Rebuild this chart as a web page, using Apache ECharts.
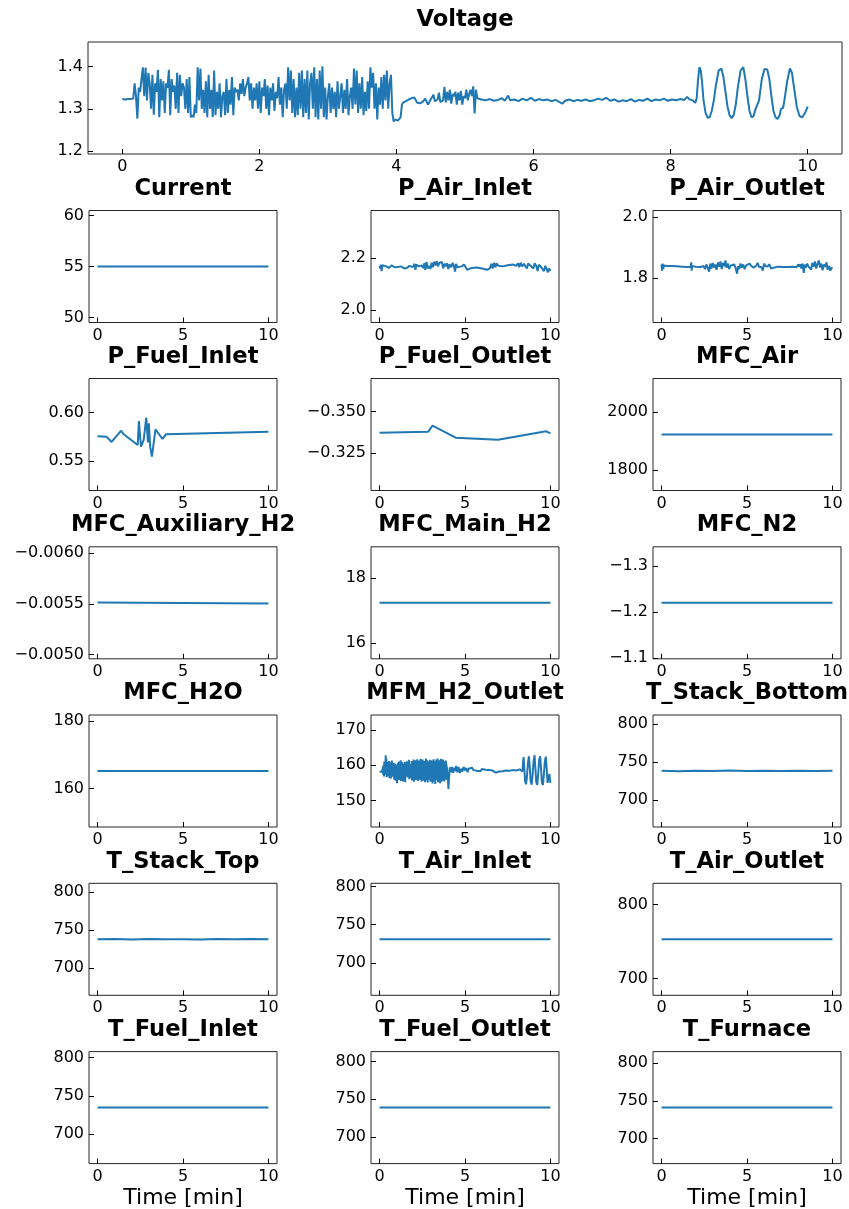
<!DOCTYPE html>
<html>
<head>
<meta charset="utf-8">
<script src="https://cdn.jsdelivr.net/npm/echarts@6/dist/echarts.min.js"></script>
<style>
  html, body { margin: 0; padding: 0; background: #ffffff; }
  #chart { width: 849px; height: 1209px; }
</style>
</head>
<body>
<div id="chart"></div>
<script>
// ---------- data ----------
const voltageTicksX = [0, 2, 4, 6, 8, 10];
const voltageTicksY = [1.2, 1.3, 1.4];
const voltageRange = [1.1935, 1.4575];

const voltage = [
  [0.00,1.323],[0.04,1.322],[0.08,1.323],[0.12,1.323],[0.16,1.324],[0.18,1.360],[0.20,1.330],[0.22,1.277],
  [0.24,1.350],[0.26,1.340],[0.28,1.370],[0.30,1.398],[0.32,1.330],[0.34,1.397],[0.36,1.320],[0.38,1.385],
  [0.40,1.360],[0.42,1.300],[0.44,1.380],[0.46,1.286],[0.48,1.360],[0.50,1.340],[0.52,1.392],[0.54,1.280],
  [0.56,1.370],[0.58,1.320],[0.60,1.365],[0.62,1.290],[0.64,1.360],[0.66,1.350],[0.68,1.392],[0.70,1.285],
  [0.72,1.370],[0.74,1.340],[0.76,1.355],[0.78,1.300],[0.80,1.385],[0.82,1.290],[0.84,1.380],[0.86,1.330],
  [0.88,1.360],[0.90,1.350],[0.92,1.300],[0.94,1.370],[0.96,1.290],[0.98,1.375],[1.00,1.280],[1.02,1.285],
  [1.04,1.280],[1.06,1.310],[1.08,1.290],[1.10,1.398],[1.12,1.320],[1.14,1.395],[1.16,1.300],[1.18,1.345],
  [1.20,1.290],[1.22,1.365],[1.24,1.280],[1.26,1.380],[1.28,1.300],[1.30,1.345],[1.32,1.280],[1.34,1.390],
  [1.36,1.285],[1.38,1.340],[1.40,1.300],[1.42,1.360],[1.44,1.280],[1.46,1.330],[1.48,1.340],[1.50,1.285],
  [1.52,1.370],[1.54,1.290],[1.56,1.345],[1.58,1.310],[1.60,1.375],[1.62,1.285],[1.64,1.350],[1.66,1.340],
  [1.68,1.345],[1.70,1.320],[1.72,1.360],[1.74,1.335],[1.76,1.370],[1.78,1.330],[1.80,1.350],[1.82,1.360],
  [1.84,1.375],[1.86,1.320],[1.88,1.360],[1.90,1.300],[1.92,1.350],[1.94,1.320],[1.96,1.360],[1.98,1.300],
  [2.00,1.365],[2.02,1.290],[2.04,1.350],[2.06,1.330],[2.08,1.370],[2.10,1.300],[2.12,1.355],[2.14,1.285],
  [2.16,1.350],[2.18,1.320],[2.20,1.360],[2.22,1.295],[2.24,1.340],[2.26,1.325],[2.28,1.375],[2.30,1.310],
  [2.32,1.350],[2.34,1.280],[2.36,1.345],[2.38,1.360],[2.40,1.300],[2.42,1.398],[2.44,1.320],[2.46,1.390],
  [2.48,1.290],[2.50,1.370],[2.52,1.280],[2.54,1.350],[2.56,1.285],[2.58,1.385],[2.60,1.300],[2.62,1.390],
  [2.64,1.280],[2.66,1.370],[2.68,1.290],[2.70,1.390],[2.72,1.275],[2.74,1.360],[2.76,1.385],[2.78,1.300],
  [2.80,1.398],[2.82,1.280],[2.84,1.370],[2.86,1.275],[2.88,1.390],[2.90,1.300],[2.92,1.400],[2.94,1.280],
  [2.96,1.350],[2.98,1.275],[3.00,1.330],[3.02,1.360],[3.04,1.290],[3.06,1.350],[3.08,1.300],[3.10,1.340],
  [3.12,1.280],[3.14,1.365],[3.16,1.300],[3.18,1.330],[3.20,1.360],[3.22,1.290],[3.24,1.345],[3.26,1.300],
  [3.28,1.370],[3.30,1.285],[3.32,1.330],[3.34,1.350],[3.36,1.300],[3.38,1.395],[3.40,1.310],[3.42,1.390],
  [3.44,1.290],[3.46,1.360],[3.48,1.300],[3.50,1.375],[3.52,1.285],[3.54,1.340],[3.56,1.295],[3.58,1.365],
  [3.60,1.300],[3.62,1.398],[3.64,1.350],[3.66,1.385],[3.68,1.300],[3.70,1.360],[3.72,1.275],[3.74,1.350],
  [3.76,1.310],[3.78,1.375],[3.80,1.300],[3.82,1.380],[3.84,1.320],[3.86,1.390],[3.88,1.300],[3.90,1.360],
  [3.92,1.380],[3.94,1.290],[3.96,1.270],[3.98,1.275],[4.00,1.278],[4.02,1.272],[4.04,1.276],[4.06,1.280],
  [4.08,1.310],[4.10,1.315],[4.14,1.318],[4.18,1.322],[4.22,1.325],[4.26,1.327],[4.30,1.315],[4.34,1.313],
  [4.38,1.316],[4.42,1.324],[4.46,1.310],[4.50,1.322],[4.54,1.333],[4.56,1.318],[4.60,1.322],[4.62,1.338],
  [4.64,1.316],[4.68,1.320],[4.70,1.352],[4.72,1.315],[4.74,1.340],[4.76,1.320],[4.78,1.345],[4.80,1.312],
  [4.82,1.335],[4.84,1.330],[4.86,1.340],[4.88,1.310],[4.90,1.338],[4.92,1.320],[4.94,1.342],[4.96,1.310],
  [4.98,1.330],[5.00,1.325],[5.02,1.345],[5.04,1.320],[5.06,1.335],[5.08,1.345],[5.10,1.330],[5.12,1.353],
  [5.14,1.289],[5.16,1.345],[5.18,1.325],[5.20,1.328],[5.24,1.322],[5.30,1.320],[5.36,1.323],[5.42,1.319],
  [5.48,1.321],[5.54,1.325],[5.58,1.319],[5.63,1.331],[5.66,1.320],[5.72,1.322],[5.78,1.318],[5.84,1.324],
  [5.90,1.320],[5.96,1.326],[6.02,1.319],[6.08,1.323],[6.14,1.320],[6.20,1.322],[6.26,1.318],[6.32,1.321],
  [6.38,1.316],[6.42,1.312],[6.46,1.319],[6.52,1.322],[6.58,1.318],[6.64,1.321],[6.70,1.319],[6.76,1.322],
  [6.82,1.318],[6.88,1.320],[6.94,1.324],[7.00,1.321],[7.06,1.326],[7.12,1.319],[7.18,1.322],[7.24,1.317],
  [7.30,1.320],[7.36,1.318],[7.42,1.323],[7.48,1.317],[7.54,1.321],[7.60,1.319],[7.66,1.324],[7.72,1.318],
  [7.78,1.322],[7.84,1.320],[7.90,1.324],[7.96,1.319],[8.02,1.322],[8.08,1.320],[8.14,1.323],[8.20,1.321],
  [8.24,1.328],[8.28,1.322],[8.32,1.320],[8.36,1.314],[8.38,1.325],[8.40,1.370],[8.42,1.398],[8.44,1.390],
  [8.46,1.360],[8.48,1.320],[8.51,1.290],[8.54,1.279],[8.57,1.280],[8.60,1.295],[8.63,1.320],[8.66,1.355],
  [8.70,1.390],[8.74,1.395],[8.77,1.375],[8.80,1.340],[8.83,1.305],[8.86,1.285],[8.89,1.278],[8.92,1.285],
  [8.95,1.310],[8.98,1.350],[9.02,1.390],[9.06,1.398],[9.09,1.370],[9.12,1.330],[9.15,1.295],[9.18,1.280],
  [9.21,1.283],[9.24,1.300],[9.26,1.302],[9.29,1.320],[9.33,1.370],[9.37,1.394],[9.41,1.393],[9.44,1.370],
  [9.47,1.330],[9.50,1.295],[9.53,1.280],[9.56,1.276],[9.59,1.285],[9.61,1.300],[9.64,1.302],[9.66,1.320],
  [9.70,1.365],[9.74,1.395],[9.77,1.385],[9.80,1.350],[9.84,1.305],[9.88,1.283],[9.92,1.280],[9.96,1.290],
  [10.00,1.305]
];

const current = [[0, 55.0], [10, 55.0]];

const pAirInlet = [
  [0.00,2.170],[0.05,2.160],[0.08,2.175],[0.12,2.150],[0.16,2.172],[0.25,2.170],[0.40,2.168],[0.55,2.162],
  [0.70,2.172],[0.85,2.166],[1.00,2.165],[1.10,2.172],[1.25,2.168],[1.45,2.160],[1.60,2.162],[1.75,2.170],
  [1.85,2.175],[1.95,2.165],[2.05,2.178],[2.10,2.155],[2.15,2.175],[2.30,2.168],[2.45,2.172],[2.55,2.162],
  [2.62,2.180],[2.68,2.155],[2.75,2.185],[2.82,2.160],[2.90,2.170],[2.98,2.158],[3.05,2.182],[3.12,2.165],
  [3.20,2.186],[3.28,2.172],[3.35,2.188],[3.42,2.168],[3.50,2.182],[3.58,2.175],[3.65,2.185],[3.72,2.160],
  [3.80,2.178],[3.88,2.168],[3.95,2.180],[4.02,2.158],[4.10,2.176],[4.20,2.165],[4.28,2.182],[4.35,2.170],
  [4.42,2.148],[4.48,2.178],[4.55,2.165],[4.65,2.172],[4.80,2.168],[4.95,2.175],[5.05,2.170],[5.12,2.155],
  [5.18,2.160],[5.40,2.162],[5.70,2.164],[6.00,2.160],[6.30,2.155],[6.45,2.160],[6.55,2.178],[6.62,2.160],
  [6.70,2.182],[6.78,2.165],[6.85,2.180],[6.95,2.170],[7.20,2.168],[7.50,2.172],[7.80,2.175],[8.00,2.170],
  [8.10,2.180],[8.18,2.165],[8.25,2.182],[8.35,2.168],[8.45,2.178],[8.55,2.175],[8.62,2.160],[8.70,2.180],
  [8.80,2.172],[8.90,2.176],[9.00,2.160],[9.08,2.180],[9.18,2.168],[9.25,2.150],[9.32,2.175],[9.45,2.165],
  [9.55,2.172],[9.62,2.150],[9.70,2.170],[9.78,2.158],[9.85,2.145],[9.92,2.160],[10.00,2.150]
];

const pAirOutlet = [
  [0.00,1.845],[0.03,1.825],[0.06,1.848],[0.10,1.830],[0.14,1.842],[0.30,1.840],[0.60,1.840],[0.90,1.839],
  [1.20,1.838],[1.50,1.837],[1.70,1.838],[1.74,1.852],[1.76,1.825],[1.78,1.840],[2.00,1.838],[2.30,1.837],
  [2.45,1.840],[2.55,1.830],[2.62,1.845],[2.70,1.835],[2.78,1.822],[2.85,1.848],[2.92,1.832],[3.00,1.850],
  [3.08,1.835],[3.15,1.845],[3.22,1.828],[3.30,1.852],[3.38,1.838],[3.45,1.855],[3.52,1.830],[3.60,1.850],
  [3.68,1.840],[3.74,1.858],[3.80,1.835],[3.88,1.848],[3.95,1.830],[4.05,1.842],[4.15,1.838],[4.25,1.845],
  [4.32,1.836],[4.42,1.815],[4.48,1.840],[4.55,1.830],[4.62,1.848],[4.70,1.835],[4.78,1.845],[4.86,1.830],
  [4.95,1.842],[5.05,1.838],[5.15,1.848],[5.25,1.840],[5.40,1.835],[5.55,1.842],[5.62,1.850],[5.70,1.838],
  [5.85,1.836],[5.92,1.825],[6.00,1.848],[6.08,1.840],[6.20,1.838],[6.30,1.846],[6.40,1.832],[6.50,1.838],
  [6.80,1.838],[7.10,1.837],[7.40,1.837],[7.70,1.838],[7.90,1.836],[8.00,1.845],[8.06,1.838],[8.12,1.846],
  [8.18,1.832],[8.25,1.848],[8.32,1.818],[8.38,1.845],[8.45,1.835],[8.52,1.848],[8.60,1.838],[8.68,1.842],
  [8.75,1.828],[8.82,1.850],[8.90,1.838],[8.98,1.855],[9.05,1.832],[9.12,1.845],[9.20,1.858],[9.28,1.835],
  [9.35,1.848],[9.42,1.826],[9.50,1.845],[9.58,1.838],[9.65,1.852],[9.72,1.828],[9.80,1.840],[9.88,1.825],
  [9.95,1.835],[10.00,1.832]
];

const pFuelInlet = [
  [0.00,0.5754],[0.52,0.5750],[0.82,0.5695],[1.38,0.5811],[1.53,0.5774],[2.35,0.5664],[2.42,0.5910],
  [2.54,0.5647],[2.70,0.5716],[2.85,0.5945],[2.95,0.5690],[3.00,0.5887],[3.08,0.5647],[3.18,0.5544],
  [3.39,0.5825],[3.80,0.5726],[4.00,0.5774],[10.00,0.5801]
];

const pFuelOutlet = [
  [0.00,-0.3374],[2.85,-0.3380],[3.10,-0.3416],[4.45,-0.3344],[6.93,-0.3332],[9.75,-0.3382],[10.00,-0.3370]
];

const mfcAir = [[0, 1922], [10, 1922]];
const mfcAuxiliaryH2 = [[0, -0.005512], [5, -0.005507], [10, -0.005502]];
const mfcMainH2 = [[0, 17.23], [10, 17.23]];
const mfcN2 = [[0, -1.2204], [10, -1.2204]];
const mfcH2O = [[0, 165.2], [10, 165.2]];

const mfmH2Outlet = [
  [0.00,158.2],[0.05,158.0],[0.10,158.3],[0.15,158.1],
  [0.20,159.5],[0.22,157.2],[0.24,160.1],[0.26,156.8],[0.28,161.0],[0.30,157.5],[0.32,160.2],[0.34,158.0],
  [0.36,162.8],[0.38,157.3],[0.40,161.8],[0.42,156.6],[0.44,160.9],[0.46,157.8],[0.48,159.9],[0.50,156.9],
  [0.52,160.7],[0.54,158.2],[0.56,161.2],[0.58,156.4],[0.60,160.3],[0.62,157.6],[0.64,159.4],[0.66,156.2],
  [0.68,160.8],[0.70,157.1],[0.72,161.3],[0.74,157.9],[0.76,160.0],[0.78,156.7],[0.80,159.6],[0.82,157.4],
  [0.84,160.6],[0.86,155.9],[0.88,159.8],[0.90,156.5],[0.92,160.4],[0.94,155.6],[0.96,159.2],[0.98,156.9],
  [1.00,160.1],[1.02,154.9],[1.04,158.8],[1.06,156.3],[1.08,160.6],[1.10,157.2],[1.12,161.0],[1.14,155.8],
  [1.16,160.2],[1.18,156.6],[1.20,159.9],[1.22,157.8],[1.24,161.4],[1.26,155.5],[1.28,159.7],[1.30,157.0],
  [1.32,160.8],[1.34,156.1],[1.36,159.3],[1.38,155.4],[1.40,160.5],[1.42,157.6],[1.44,159.8],[1.46,156.2],
  [1.48,160.9],[1.50,155.2],[1.52,159.1],[1.54,157.4],[1.56,160.4],[1.58,156.8],[1.60,161.1],[1.62,157.9],
  [1.64,159.6],[1.66,156.5],[1.68,160.7],[1.70,157.3],[1.72,161.5],[1.74,156.0],[1.76,159.4],[1.78,157.7],
  [1.80,160.3],[1.82,156.4],[1.84,160.0],[1.86,157.1],[1.88,161.2],[1.90,155.7],[1.92,159.5],[1.94,156.9],
  [1.96,160.6],[1.98,157.5],[2.00,161.6],[2.02,155.3],[2.04,160.2],[2.06,156.6],[2.08,161.4],[2.10,157.0],
  [2.12,159.9],[2.14,155.8],[2.16,160.8],[2.18,156.3],[2.20,161.7],[2.22,157.6],[2.24,159.2],[2.26,155.5],
  [2.28,160.5],[2.30,156.9],[2.32,161.3],[2.34,155.9],[2.36,160.1],[2.38,157.4],[2.40,161.8],[2.42,156.2],
  [2.44,160.4],[2.46,155.4],[2.48,159.7],[2.50,157.2],[2.52,161.6],[2.54,156.0],[2.56,160.9],[2.58,155.6],
  [2.60,159.5],[2.62,156.8],[2.64,161.2],[2.66,155.2],[2.68,160.3],[2.70,157.0],[2.72,161.9],[2.74,155.7],
  [2.76,160.6],[2.78,156.4],[2.80,161.4],[2.82,155.1],[2.84,159.8],[2.86,156.7],[2.88,161.0],[2.90,155.9],
  [2.92,160.7],[2.94,157.3],[2.96,161.5],[2.98,155.3],[3.00,160.0],[3.02,156.1],[3.04,161.3],[3.06,155.5],
  [3.08,160.8],[3.10,154.8],[3.12,159.6],[3.14,156.6],[3.16,161.7],[3.18,155.4],[3.20,160.2],[3.22,156.9],
  [3.24,161.1],[3.26,154.7],[3.28,159.9],[3.30,156.3],[3.32,161.6],[3.34,155.8],[3.36,160.5],[3.38,156.0],
  [3.40,161.9],[3.42,155.2],[3.44,160.1],[3.46,156.7],[3.48,161.4],[3.50,155.6],[3.52,160.9],[3.54,154.9],
  [3.56,160.3],[3.58,156.4],[3.60,161.8],[3.62,155.3],[3.64,159.7],[3.66,156.8],[3.68,161.2],[3.70,155.7],
  [3.72,161.6],[3.74,156.2],[3.76,160.4],[3.78,155.4],[3.80,161.0],[3.82,156.5],[3.84,160.6],[3.86,155.9],
  [3.88,161.3],[3.90,157.0],[3.92,160.2],[3.94,156.3],[3.96,159.4],[3.98,155.8],[4.00,156.5],[4.03,153.3],
  [4.06,156.0],[4.10,158.5],[4.15,159.5],[4.20,158.0],[4.25,159.5],[4.30,157.8],[4.35,159.2],[4.40,158.3],
  [4.48,159.8],[4.55,158.0],[4.62,159.5],[4.70,157.8],[4.78,159.0],[4.85,158.2],[4.92,159.5],[5.00,158.5],
  [5.08,159.2],[5.15,158.0],[5.22,159.0],[5.30,158.5],[5.40,159.3],[5.50,158.6],[5.60,159.0],[5.70,158.4],
  [5.80,158.8],[5.90,158.3],[6.00,158.9],[6.10,158.4],[6.20,158.7],[6.30,158.2],[6.40,158.6],[6.50,158.1],
  [6.60,158.5],[6.70,158.0],[6.80,157.9],[6.90,158.4],[7.00,158.2],[7.10,158.6],[7.20,158.3],[7.30,157.8],
  [7.40,158.5],[7.50,158.2],[7.60,158.4],[7.70,158.1],[7.80,158.6],[7.90,158.3],[8.00,158.5],[8.10,158.0],
  [8.20,158.8],[8.30,158.3],[8.36,158.2],[8.40,161.0],[8.43,162.3],[8.47,159.0],[8.52,155.5],[8.57,154.6],
  [8.62,156.5],[8.68,160.5],[8.74,162.5],[8.79,159.5],[8.84,155.5],[8.90,154.5],[8.95,157.0],[9.01,161.0],
  [9.07,162.8],[9.12,159.0],[9.17,155.2],[9.23,154.4],[9.28,157.5],[9.34,161.5],[9.40,162.5],[9.45,159.0],
  [9.50,155.0],[9.56,154.4],[9.61,157.0],[9.67,161.0],[9.73,162.4],[9.78,159.0],[9.83,155.0],[9.89,154.5],
  [9.94,157.5],[9.97,156.0],[10.00,155.0]
];

const tStackBottom = [[0,738.2],[1,737.8],[2,738.4],[3,737.9],[4,738.6],[5,738.1],[6,738.3],[7,737.9],[8,738.4],[9,738.0],[10,738.2]];
const tStackTop = [[0,738.0],[1,738.3],[2,737.8],[3,738.4],[4,738.0],[5,738.2],[6,737.9],[7,738.3],[8,738.0],[9,738.4],[10,738.1]];
const tAirInlet = [[0, 731.0], [5, 731.1], [10, 731.0]];
const tAirOutlet = [[0, 753.0], [5, 753.0], [10, 753.0]];
const tFuelInlet = [[0, 734.5], [5, 734.5], [10, 734.6]];
const tFuelOutlet = [[0, 739.0], [5, 739.1], [10, 739.0]];
const tFurnace = [[0, 741.0], [5, 741.0], [10, 741.0]];

const panelTicksX = [0, 5, 10];

const panelNames = [
  'Current', 'P_Air_Inlet', 'P_Air_Outlet',
  'P_Fuel_Inlet', 'P_Fuel_Outlet', 'MFC_Air',
  'MFC_Auxiliary_H2', 'MFC_Main_H2', 'MFC_N2',
  'MFC_H2O', 'MFM_H2_Outlet', 'T_Stack_Bottom',
  'T_Stack_Top', 'T_Air_Inlet', 'T_Air_Outlet',
  'T_Fuel_Inlet', 'T_Fuel_Outlet', 'T_Furnace'
];
const panelData = [
  current, pAirInlet, pAirOutlet,
  pFuelInlet, pFuelOutlet, mfcAir,
  mfcAuxiliaryH2, mfcMainH2, mfcN2,
  mfcH2O, mfmH2Outlet, tStackBottom,
  tStackTop, tAirInlet, tAirOutlet,
  tFuelInlet, tFuelOutlet, tFurnace
];
// value at the bottom edge, value at the top edge
const panelRanges = [
  [49.5, 60.5], [1.951, 2.384], [1.656, 2.021],
  [0.5195, 0.6349], [-0.3027, -0.3699], [1729.8, 2114.2],
  [-0.004959, -0.006061], [15.507, 18.953], [-1.0984, -1.3424],
  [148.7, 181.7], [142.5, 174.2], [664.2, 811.8],
  [664.2, 811.8], [657.9, 804.1], [677.7, 828.3],
  [661.05, 807.95], [665.1, 812.9], [666.9, 815.1]
];
const panelTicksY = [
  [50, 55, 60], [2.0, 2.2], [1.8, 2.0],
  [0.55, 0.60], [-0.350, -0.325], [1800, 2000],
  [-0.0060, -0.0055, -0.0050], [16, 18], [-1.3, -1.2, -1.1],
  [160, 180], [150, 160, 170], [700, 750, 800],
  [700, 750, 800], [700, 750, 800], [700, 800],
  [700, 750, 800], [700, 750, 800], [700, 750, 800]
];
const panelDecimals = [0, 1, 1, 2, 3, 0, 4, 0, 1, 0, 0, 0, 0, 0, 0, 0, 0, 0];

// ---------- layout ----------
const FONT = '"DejaVu Sans", "Liberation Sans", sans-serif';
const LINE_COLOR = '#1f77b4';
const top0 = { left: 88, top: 42, width: 754, height: 112 };
const colLefts = [89, 371, 653];
const rowTops = [210.5, 378.5, 546.8, 715, 883.3, 1051.6];
const cellW = 188, cellH = 112;

function fmt(v, d) {
  const s = Number(v).toFixed(d);
  return s.replace('-', '\u2212');
}

function axisPair(i, box, xTicks, yTicks, range, dec) {
  const lo = Math.min(range[0], range[1]);
  const hi = Math.max(range[0], range[1]);
  const inv = range[0] > range[1];
  const grid = {
    left: box.left, top: box.top, width: box.width, height: box.height,
    show: true, borderColor: '#262626', borderWidth: 1, backgroundColor: 'transparent',
    containLabel: false
  };
  const tickStyle = { show: true, inside: true, length: 5, lineStyle: { color: '#000', width: 1 } };
  const labelStyle = { color: '#000', fontSize: 16, fontFamily: FONT };
  const xAxis = {
    gridIndex: i, type: 'value', min: -0.5, max: 10.5, position: 'bottom',
    axisLine: { show: false, onZero: false }, splitLine: { show: false },
    axisTick: Object.assign({}, tickStyle, { customValues: xTicks }),
    axisLabel: Object.assign({}, labelStyle, { customValues: xTicks, margin: 5, formatter: v => fmt(v, 0) })
  };
  const yAxis = {
    gridIndex: i, type: 'value', min: lo, max: hi, inverse: inv, position: 'left',
    axisLine: { show: false, onZero: false }, splitLine: { show: false },
    axisTick: Object.assign({}, tickStyle, { customValues: yTicks }),
    axisLabel: Object.assign({}, labelStyle, { customValues: yTicks, margin: 5, formatter: v => fmt(v, dec) })
  };
  return { grid, xAxis, yAxis };
}

const grids = [], xAxes = [], yAxes = [], series = [], texts = [];

function addPanel(i, box, name, data, xTicks, yTicks, range, dec, withXName) {
  const p = axisPair(i, box, xTicks, yTicks, range, dec);
  grids.push(p.grid); xAxes.push(p.xAxis); yAxes.push(p.yAxis);
  series.push({
    type: 'line', name: name, xAxisIndex: i, yAxisIndex: i, data: data,
    showSymbol: false, symbol: 'none', clip: true, animation: false,
    lineStyle: { color: LINE_COLOR, width: 2 }
  });
  const cx = box.left + box.width / 2;
  texts.push({
    type: 'text', x: cx, y: box.top - 21.5, silent: true,
    style: { text: name, fill: '#000', font: 'bold 22.6px ' + FONT, textAlign: 'center', textVerticalAlign: 'middle' }
  });
  if (withXName) {
    texts.push({
      type: 'text', x: cx, y: box.top + box.height + 35, silent: true,
      style: { text: 'Time [min]', fill: '#000', font: '22px ' + FONT, textAlign: 'center', textVerticalAlign: 'middle' }
    });
  }
}

addPanel(0, top0, 'Voltage', voltage, voltageTicksX, voltageTicksY, voltageRange, 1, false);
panelNames.forEach((name, k) => {
  const r = Math.floor(k / 3), c = k % 3;
  const box = { left: colLefts[c], top: rowTops[r], width: cellW, height: cellH };
  addPanel(k + 1, box, name, panelData[k], panelTicksX, panelTicksY[k], panelRanges[k], panelDecimals[k], r === 5);
});

const chart = echarts.init(document.getElementById('chart'), null, { renderer: 'canvas' });
chart.setOption({
  animation: false,
  backgroundColor: '#ffffff',
  grid: grids,
  xAxis: xAxes,
  yAxis: yAxes,
  series: series,
  graphic: { elements: texts }
});
</script>
</body>
</html>
